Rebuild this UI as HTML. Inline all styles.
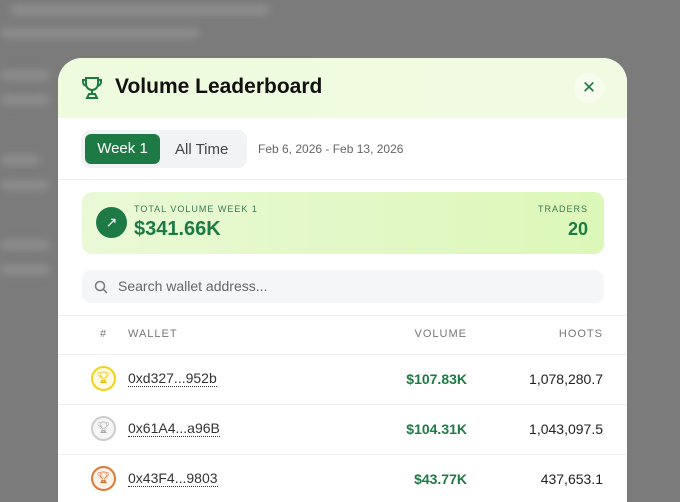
<!DOCTYPE html>
<html><head><style>
*{margin:0;padding:0;box-sizing:border-box}
html,body{width:680px;height:502px;overflow:hidden}
body{background:#7b7b7b;font-family:"Liberation Sans",sans-serif;position:relative}
.bl{position:absolute;background:#8e8e8e;height:10px;border-radius:5px;filter:blur(4px)}
.m{position:absolute;left:58px;top:58px;width:569px;height:444px;background:#fff;border-radius:24px 24px 0 0;overflow:hidden}
.hd{height:60px;background:linear-gradient(90deg,#eefbdc,#f1fbe3);position:relative}
.t{position:absolute;left:57px;top:17px;font-size:21px;font-weight:bold;color:#111}
.x{position:absolute;right:23px;top:15px;width:30px;height:30px;border-radius:15px;background:#f7fcef;color:#1e7a45;font-size:17px;text-align:center;line-height:30px}
.tabs{position:absolute;left:23px;top:72px;width:166px;height:38px;background:#f1f3f5;border-radius:9px}
.w1{position:absolute;left:4px;top:4px;width:75px;height:30px;background:#1e7a45;border-radius:6px;color:#fff;font-size:15px;text-align:center;line-height:30px}
.at{position:absolute;left:94px;top:11px;font-size:15px;color:#444}
.dt{position:absolute;left:200px;top:84px;font-size:12px;color:#666}
.dv{position:absolute;left:0;right:0;height:1px;background:#eef0f1}
.card{position:absolute;left:24px;top:134px;width:522px;height:62px;border-radius:10px;background:linear-gradient(90deg,#e9f9d6,#dcf8b8)}
.ic{position:absolute;left:14px;top:15px;width:31px;height:31px;border-radius:16px;background:#1e7a45;color:#fff;text-align:center;line-height:31px;font-size:14px}
.s{position:absolute;left:24px;top:212px;width:522px;height:33px;border-radius:9px;background:#f5f6f7;color:#666;font-size:14px;line-height:33px;padding-left:36px}
.th{position:absolute;top:270px;font-size:11px;color:#777;letter-spacing:1px}
.b{position:absolute;left:33px;width:25px;height:25px;border-radius:13px;border:2px solid;text-align:center;line-height:20px;font-size:11px}
.wa{position:absolute;left:70px;font-size:14px;color:#333;border-bottom:1px dotted #333;line-height:15px}
.v{position:absolute;right:160px;font-size:14px;font-weight:bold;color:#1e7a45}
.h{position:absolute;right:24px;font-size:14px;color:#222}
</style></head><body>
<div class="bl" style="left:10px;top:5px;width:260px"></div>
<div class="bl" style="left:0;top:28px;width:200px"></div>
<div class="bl" style="left:0;top:70px;width:50px"></div>
<div class="bl" style="left:0;top:95px;width:50px"></div>
<div class="bl" style="left:0;top:155px;width:40px"></div>
<div class="bl" style="left:0;top:180px;width:50px"></div>
<div class="bl" style="left:0;top:240px;width:50px"></div>
<div class="bl" style="left:0;top:265px;width:50px"></div>
<div class="m">
<div class="hd">
<svg style="position:absolute;left:23px;top:18px" width="22" height="24" viewBox="0 0 22 24" fill="none" stroke="#1e7a45" stroke-width="2"><path d="M5 2h12v6a6 6 0 0 1-12 0z"/><path d="M5 4H2v2a4 4 0 0 0 4 4M17 4h3v2a4 4 0 0 1-4 4M11 14v4M6 22h10l-2-4H8z"/></svg>
<div class="t">Volume Leaderboard</div>
<div class="x">✕</div>
</div>
<div class="tabs"><div class="w1">Week 1</div><div class="at">All Time</div></div>
<div class="dt">Feb 6, 2026 - Feb 13, 2026</div>
<div class="dv" style="top:121px"></div>
<div class="card"><div class="ic">↗</div>
<div style="position:absolute;left:52px;top:12px;font-size:9px;color:#3c7a55;letter-spacing:1px">TOTAL VOLUME WEEK 1</div>
<div style="position:absolute;left:52px;top:26px;font-size:20px;font-weight:bold;color:#1e7a45">$341.66K</div>
<div style="position:absolute;right:16px;top:12px;font-size:9px;color:#3c7a55;letter-spacing:1px">TRADERS</div>
<div style="position:absolute;right:16px;top:27px;font-size:18px;font-weight:bold;color:#1e7a45">20</div>
</div>
<div class="s">Search wallet address...
<svg style="position:absolute;left:12px;top:10px" width="14" height="14" viewBox="0 0 14 14" fill="none" stroke="#777" stroke-width="1.5"><circle cx="6" cy="6" r="4.5"/><path d="M9.5 9.5L13 13"/></svg></div>
<div class="dv" style="top:257px"></div>
<div class="th" style="left:42px">#</div><div class="th" style="left:70px">WALLET</div>
<div class="th" style="right:160px">VOLUME</div><div class="th" style="right:24px">HOOTS</div>
<div class="dv" style="top:296px"></div>
<div class="b" style="top:308px;border-color:#f2d21b;color:#e0b800;background:#fffbe6">🏆︎</div>
<div class="wa" style="top:313px">0xd327...952b</div><div class="v" style="top:313px">$107.83K</div><div class="h" style="top:313px">1,078,280.7</div>
<div class="dv" style="top:346px"></div>
<div class="b" style="top:358px;border-color:#ccc;color:#aaa;background:#f6f6f6">🏆︎</div>
<div class="wa" style="top:363px">0x61A4...a96B</div><div class="v" style="top:363px">$104.31K</div><div class="h" style="top:363px">1,043,097.5</div>
<div class="dv" style="top:396px"></div>
<div class="b" style="top:408px;border-color:#d97b3a;color:#c46a2a;background:#fdf1e8">🏆︎</div>
<div class="wa" style="top:413px">0x43F4...9803</div><div class="v" style="top:413px">$43.77K</div><div class="h" style="top:413px">437,653.1</div>
</div>
</body></html>
